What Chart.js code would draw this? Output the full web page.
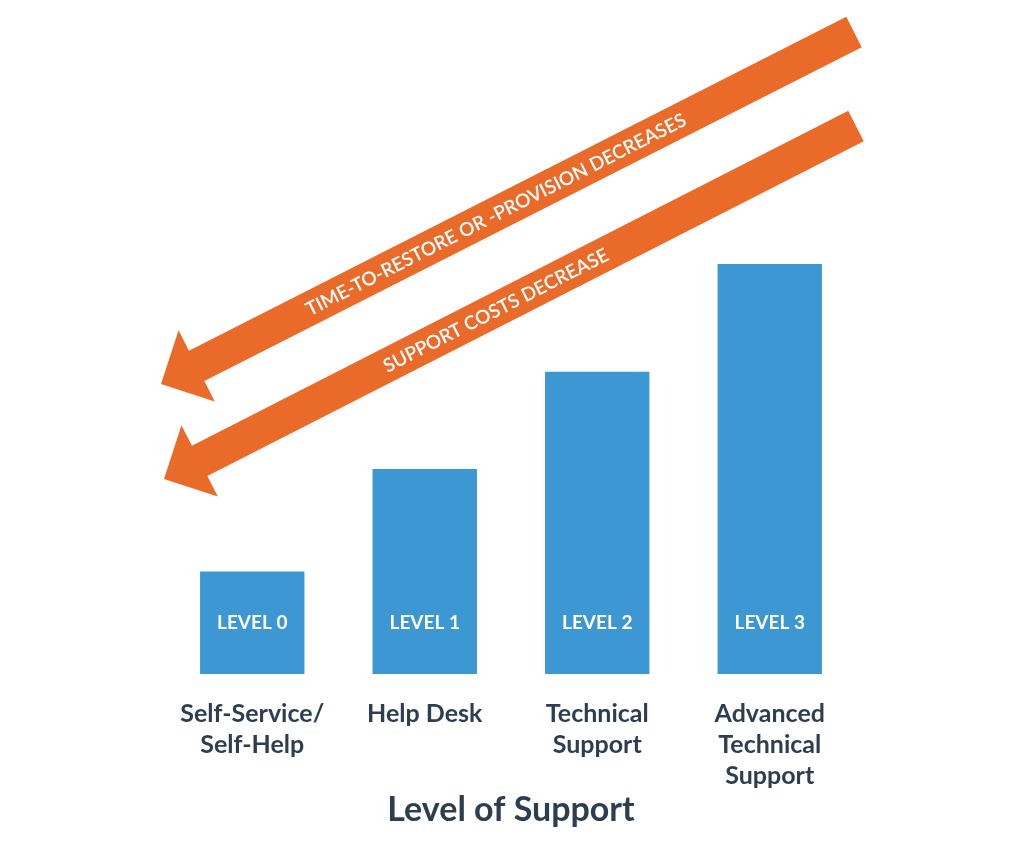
<!DOCTYPE html>
<html>
<head>
<meta charset="utf-8">
<script src="https://cdn.jsdelivr.net/npm/chart.js@4"></script>
<style>
  html, body { margin: 0; padding: 0; background: #fff; }
  #wrap { width: 1024px; height: 864px; }
</style>
</head>
<body>
<div id="wrap"><canvas id="myChart" width="1024" height="864"></canvas></div>
<script>
// Data
const categories = [
  ["Self-Service/", "Self-Help"],
  ["Help Desk"],
  ["Technical", "Support"],
  ["Advanced", "Technical", "Support"]
];
const levelNames = ["LEVEL 0", "LEVEL 1", "LEVEL 2", "LEVEL 3"];
const supportValues = [1, 2, 2.95, 4];
const arrowTexts = ["TIME-TO-RESTORE OR -PROVISION DECREASES", "SUPPORT COSTS DECREASE"];

const FONT = "Lato, 'Open Sans', sans-serif";
const BLUE = "#3d97d3";
const ORANGE = "#ea6a2a";
const DARK = "#2c3e50";

// arrow shapes: tail centre and tip
const arrows = [
  { tail: [854, 32], tip: [161, 384] },
  { tail: [856, 126], tip: [164, 479] }
];

function drawArrow(ctx, a, text) {
  const dx = a.tip[0] - a.tail[0], dy = a.tip[1] - a.tail[1];
  const len = Math.hypot(dx, dy);
  const ang = Math.atan2(dy, dx);
  const sw = 34, hl = 40, hw = 80;
  ctx.save();
  ctx.translate(a.tail[0], a.tail[1]);
  ctx.rotate(ang);
  ctx.fillStyle = ORANGE;
  ctx.beginPath();
  ctx.moveTo(0, -sw / 2);
  ctx.lineTo(len - hl, -sw / 2);
  ctx.lineTo(len - hl, -hw / 2);
  ctx.lineTo(len, 0);
  ctx.lineTo(len - hl, hw / 2);
  ctx.lineTo(len - hl, sw / 2);
  ctx.lineTo(0, sw / 2);
  ctx.closePath();
  ctx.fill();
  ctx.restore();

  // text, upright along the shaft, centred near x = 496
  const cx = 496;
  const t = (a.tail[0] - cx) / (a.tail[0] - a.tip[0]);
  const cy = a.tail[1] + t * dy;
  ctx.save();
  ctx.translate(cx, cy + 1);
  ctx.rotate(ang + Math.PI);
  ctx.fillStyle = "#fff";
  ctx.font = "600 19px " + FONT;
  ctx.textAlign = "center";
  ctx.textBaseline = "middle";
  ctx.fillText(text, 0, 0);
  ctx.restore();
}

const decorations = {
  id: "decorations",
  afterDatasetsDraw(chart) {
    const ctx = chart.ctx;
    const meta = chart.getDatasetMeta(0);
    const y = chart.scales.y.getPixelForValue(0.5);
    ctx.save();
    ctx.fillStyle = "#fff";
    ctx.font = "bold 19px " + FONT;
    ctx.textAlign = "center";
    ctx.textBaseline = "middle";
    meta.data.forEach((bar, i) => {
      ctx.fillText(levelNames[i], bar.x, y);
    });
    ctx.restore();
    arrows.forEach((a, i) => drawArrow(ctx, a, arrowTexts[i]));
  }
};

const ctx = document.getElementById("myChart").getContext("2d");
new Chart(ctx, {
  type: "bar",
  data: {
    labels: categories,
    datasets: [{
      label: "Level of Support",
      data: supportValues,
      backgroundColor: BLUE,
      barPercentage: 0.605,
      categoryPercentage: 1
    }]
  },
  options: {
    responsive: false,
    animation: false,
    layout: { padding: { top: 264, left: 166, right: 168, bottom: 37 } },
    plugins: { legend: { display: false }, tooltip: { enabled: false } },
    scales: {
      x: {
        grid: { display: false, drawTicks: false },
        border: { display: false },
        ticks: {
          color: DARK,
          font: { family: FONT, size: 25, weight: "bold", lineHeight: 1.24 },
          padding: 24,
          maxRotation: 0,
          autoSkip: false
        },
        title: {
          display: true,
          text: "Level of Support",
          color: DARK,
          font: { family: FONT, size: 34, weight: "bold", lineHeight: 1.0 },
          padding: { top: -22, bottom: 0 }
        }
      },
      y: { display: false, min: 0, max: 4 }
    }
  },
  plugins: [decorations]
});
</script>
</body>
</html>
